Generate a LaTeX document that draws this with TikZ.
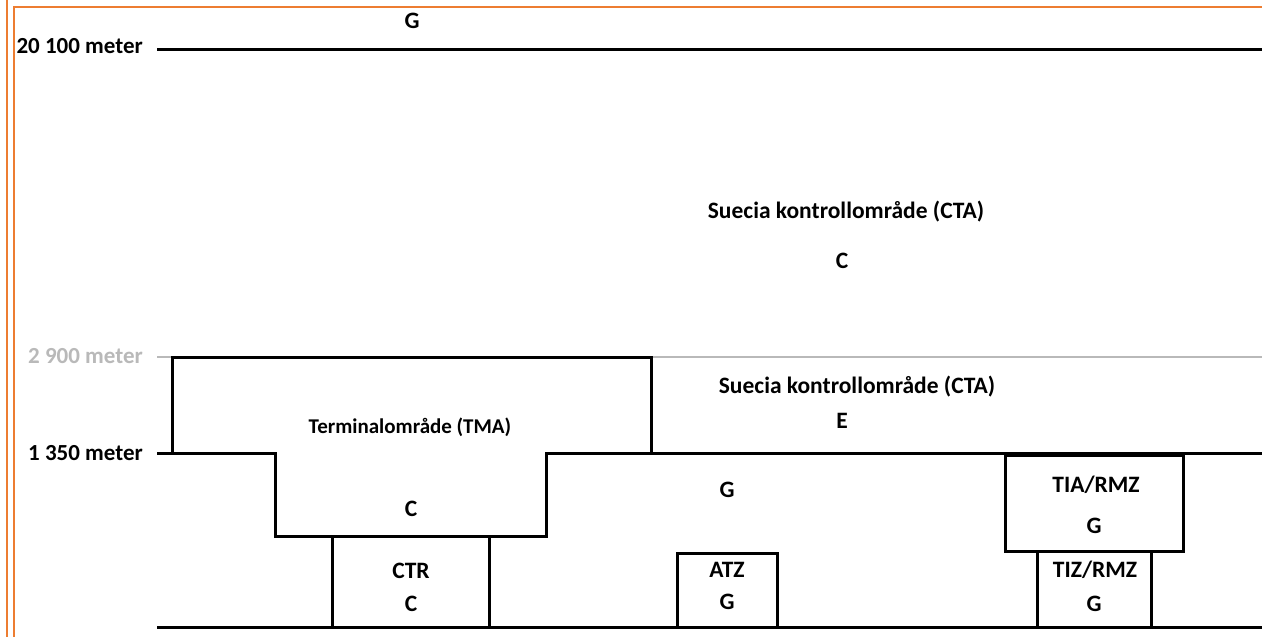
\documentclass[tikz,border=0pt]{standalone}
\usepackage{fontspec}
\setmainfont{Carlito}
\definecolor{frameorange}{RGB}{237,125,49}
\definecolor{lightgray}{RGB}{185,185,185}
\begin{document}
\begin{tikzpicture}[x=1pt,y=-1pt,
  lbl/.style={inner sep=0pt,anchor=base,font=\fontsize{23.5}{26}\selectfont\bfseries},
  alt/.style={inner sep=0pt,anchor=base east,font=\fontsize{23}{26}\selectfont\bfseries},
  bound/.style={line width=3pt,black},
  grayline/.style={line width=2.5pt,lightgray},
  frame/.style={line width=1.8pt,frameorange}]
\useasboundingbox (0,0) rectangle (1262,637);
\fill[white] (0,0) rectangle (1262,637);
% orange frame
\draw[frame] (7,0) -- (7,637);
\draw[frame] (14,637) -- (14,7) -- (1262,7);
% coordinates
\coordinate (l20) at (157,49);  \coordinate (r20) at (1262,49);
\coordinate (l29) at (157,357); \coordinate (tmaTL) at (172,357);
\coordinate (tmaTR) at (651,357); \coordinate (r29) at (1262,357);
\coordinate (l13) at (157,453); \coordinate (tmaBL) at (172,453);
\coordinate (tmaBR) at (651,453); \coordinate (r13) at (1262,453);
\coordinate (g0) at (157,627); \coordinate (g1) at (1262,627);
% lines
\draw[bound] (l20) -- (r20);
\draw[grayline] (l29) -- (tmaTL);
\draw[grayline] (tmaTR) -- (r29);
\draw[bound] (l13) -- (tmaBL);
\draw[bound] (tmaBL) |- (tmaTR) -- (tmaBR);
\draw[bound] (tmaBL) -- (275,453) -- (275,536) -- (546,536) -- (546,453) -- (r13);
\draw[bound] (332,536) -- (332,627);
\draw[bound] (489,536) -- (489,627);
\draw[bound] (g0) -- (g1);
\draw[bound] (677,627) -- (677,553) -- (777,553) -- (777,627);
\draw[bound] (1005,455) rectangle (1183,551);
\draw[bound] (1037,551) -- (1037,627);
\draw[bound] (1151,551) -- (1151,627);
% altitude labels
\node[alt] (a20) at (143,53) {20 100 meter};
\node[alt,text=lightgray] (a29) at (143,363) {2 900 meter};
\node[alt] (a13) at (143,460) {1 350 meter};
% area labels
\node[lbl] (gtop) at (412,28) {G};
\node[lbl] (cta1) at (846,218) {Suecia kontrollområde (CTA)};
\node[lbl] (cta1c) at (842,268) {C};
\node[lbl] (cta2) at (857,393) {Suecia kontrollområde (CTA)};
\node[lbl] (cta2e) at (842,428) {E};
\node[lbl,font=\fontsize{21}{24}\selectfont\bfseries] (tma) at (410,433) {Terminalområde (TMA)};
\node[lbl] (tmac) at (411,516) {C};
\node[lbl] (ctr) at (411,578) {CTR};
\node[lbl] (ctrc) at (411,611) {C};
\node[lbl] (gmid) at (727,497) {G};
\node[lbl] (atz) at (727,577) {ATZ};
\node[lbl] (atzg) at (727,609) {G};
\node[lbl] (tia) at (1096,492) {TIA/RMZ};
\node[lbl] (tiag) at (1094,533) {G};
\node[lbl] (tiz) at (1095,577) {TIZ/RMZ};
\node[lbl] (tizg) at (1094,611) {G};
\end{tikzpicture}
\end{document}
